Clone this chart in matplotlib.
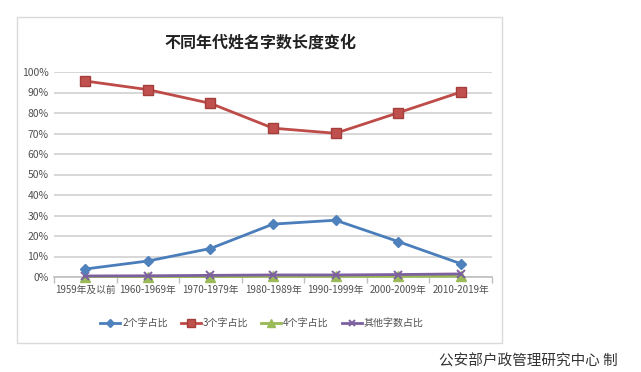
import matplotlib
matplotlib.use("Agg")
import matplotlib.pyplot as plt
from matplotlib.patches import Rectangle
from matplotlib.ticker import FuncFormatter, FixedLocator

plt.rcParams['font.family'] = ['Liberation Sans Narrow', 'Noto Sans CJK SC', 'DejaVu Sans']

categories = ["1959年及以前", "1960-1969年", "1970-1979年", "1980-1989年",
              "1990-1999年", "2000-2009年", "2010-2019年"]
two_char = [3.9, 7.8, 13.9, 25.8, 27.7, 17.3, 6.5]
three_char = [95.6, 91.4, 84.7, 72.6, 70.1, 80.1, 90.2]
four_char = [0.2, 0.2, 0.2, 0.3, 0.3, 0.3, 0.4]
other_char = [0.5, 0.6, 0.8, 1.0, 1.0, 1.2, 1.5]
series_names = ["2个字占比", "3个字占比", "4个字占比", "其他字数占比"]
title = "不同年代姓名字数长度变化"
source = "公安部户政管理研究中心 制"

W, H = 641, 372
fig = plt.figure(figsize=(W / 100, H / 100), dpi=100)
fig.patch.set_facecolor("white")

# chart frame
fig.patches.append(Rectangle((17 / W, 1 - 343 / H), 485 / W, 326 / H,
                             transform=fig.transFigure, facecolor="none",
                             edgecolor="#d9d9d9", linewidth=1.0, zorder=-10))

ax = fig.add_axes([54 / W, 1 - 277 / H, 438 / W, 205 / H])
ax.patch.set_alpha(0)
x = list(range(len(categories)))

ax.plot(x, two_char, color="#4A7EBB", lw=2.0, marker="D", ms=5.5,
        mfc="#4F81BD", mec="#4F81BD", label=series_names[0], zorder=4, clip_on=False)
ax.plot(x, three_char, color="#BE4B48", lw=2.0, marker="s", ms=7,
        mfc="#C0504D", mec="#A33E3B", label=series_names[1], zorder=4, clip_on=False)
ax.plot(x, four_char, color="#98B954", lw=2.0, marker="^", ms=6.5,
        mfc="#9BBB59", mec="#9BBB59", label=series_names[2], zorder=3, clip_on=False)
ax.plot(x, other_char, color="#7D60A0", lw=2.0, marker="x", ms=6,
        mew=1.4, mec="#7D60A0", label=series_names[3], zorder=3.5, clip_on=False)

ax.set_xlim(-0.5, len(categories) - 0.5)
ax.set_ylim(0, 100)
ax.set_yticks(range(0, 101, 10))
ax.yaxis.set_major_formatter(FuncFormatter(lambda v, p: f"{int(v)}%"))
ax.set_xticks(x)
ax.set_xticklabels(categories)
ax.xaxis.set_minor_locator(FixedLocator([i - 0.5 for i in range(len(categories) + 1)]))
ax.tick_params(axis="x", which="major", length=0, pad=6, labelsize=7.0, colors="#505050")
ax.tick_params(axis="x", which="minor", length=4, color="#bfbfbf", width=1)
ax.tick_params(axis="y", length=0, pad=4, labelsize=7.5, colors="#505050")
ax.grid(axis="y", color="#d4d4d4", lw=1.3)
ax.set_axisbelow(True)
for s in ["top", "right", "left"]:
    ax.spines[s].set_visible(False)
ax.spines["bottom"].set_color("#bfbfbf")
ax.spines["bottom"].set_linewidth(1.2)

fig.text(260 / W, 1 - 43 / H, title, ha="center", va="center",
         fontsize=11.5, fontweight="bold", color="#222222",
         family=['Noto Sans CJK SC', 'DejaVu Sans'])

fig.legend(loc="center", bbox_to_anchor=(262 / W, 1 - 323 / H), ncol=4,
           frameon=False, fontsize=7.2, handlelength=2.0, handletextpad=0.2,
           columnspacing=1.3, labelcolor="#505050", markerscale=0.8)

fig.text(618 / W, 1 - 354 / H, source, ha="right", va="top",
         fontsize=10.5, color="#333333", family=['Noto Sans CJK SC', 'DejaVu Sans'])

fig.savefig("out.png", dpi=100, facecolor="white")
